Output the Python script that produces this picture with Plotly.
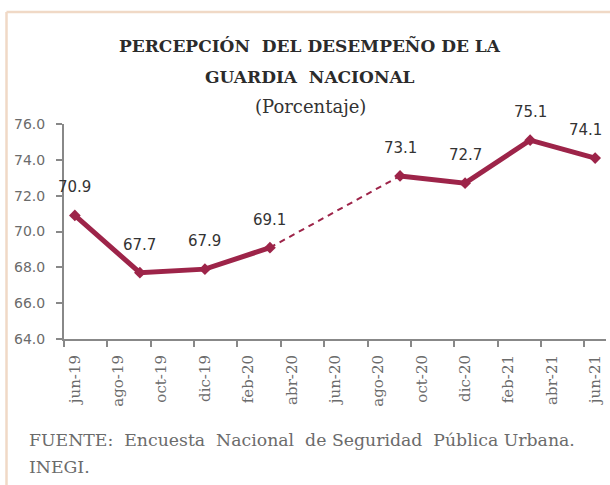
import plotly.graph_objects as go

# ---- data ----
month_labels = ["jun-19", "jul-19", "ago-19", "sep-19", "oct-19", "nov-19", "dic-19",
                "ene-20", "feb-20", "mar-20", "abr-20", "may-20", "jun-20", "jul-20",
                "ago-20", "sep-20", "oct-20", "nov-20", "dic-20", "ene-21", "feb-21",
                "mar-21", "abr-21", "may-21", "jun-21"]
tick_labels = ["jun-19", "ago-19", "oct-19", "dic-19", "feb-20", "abr-20", "jun-20",
               "ago-20", "oct-20", "dic-20", "feb-21", "abr-21", "jun-21"]
periods = ["jun-19", "sep-19", "dic-19", "mar-20", "sep-20", "dic-20", "mar-21", "jun-21"]
values = [70.9, 67.7, 67.9, 69.1, 73.1, 72.7, 75.1, 74.1]

x_idx = [month_labels.index(p) for p in periods]
tick_idx = [month_labels.index(t) for t in tick_labels]

W, H = 610, 485
ML, MR, MT, MB = 64, 4, 124, 146
PW, PH = W - ML - MR, H - MT - MB

def px2x(px):
    return (px - ML) / PW

def px2y(py):
    return (H - MB - py) / PH

GUINDA = "#9D2449"
SERIF = "DejaVu Serif"
SANS = "DejaVu Sans"

fig = go.Figure()

fig.add_trace(go.Scatter(x=x_idx[:4], y=values[:4], mode="lines+markers",
                         line=dict(color=GUINDA, width=5),
                         marker=dict(symbol="diamond", size=9, color=GUINDA),
                         hoverinfo="skip", showlegend=False))
fig.add_trace(go.Scatter(x=x_idx[3:5], y=values[3:5], mode="lines",
                         line=dict(color=GUINDA, width=2, dash="6px,5px"),
                         hoverinfo="skip", showlegend=False))
fig.add_trace(go.Scatter(x=x_idx[4:], y=values[4:], mode="lines+markers",
                         line=dict(color=GUINDA, width=5),
                         marker=dict(symbol="diamond", size=9, color=GUINDA),
                         hoverinfo="skip", showlegend=False))

annotations = []
for i, (xv, yv) in enumerate(zip(x_idx, values)):
    annotations.append(dict(x=xv, y=yv, text=f"{yv:.1f}", showarrow=False,
                            xref="x", yref="y", yshift=28,
                            xshift=-10 if i == len(values) - 1 else 0,
                            font=dict(family=SANS, size=15, color="#333333")))

annotations += [
    dict(text="<b>PERCEPCIÓN  DEL DESEMPEÑO DE LA</b>", x=px2x(310), y=px2y(45),
         xref="paper", yref="paper", showarrow=False, xanchor="center", yanchor="middle",
         font=dict(family=SERIF, size=17, color="#2b2b2b")),
    dict(text="<b>GUARDIA  NACIONAL</b>", x=px2x(310), y=px2y(77),
         xref="paper", yref="paper", showarrow=False, xanchor="center", yanchor="middle",
         font=dict(family=SERIF, size=17, color="#2b2b2b")),
    dict(text="(Porcentaje)", x=px2x(310), y=px2y(106),
         xref="paper", yref="paper", showarrow=False, xanchor="center", yanchor="middle",
         font=dict(family=SERIF, size=18, color="#333333")),
    dict(text="FUENTE:  Encuesta  Nacional  de Seguridad  Pública Urbana.", x=px2x(27), y=px2y(440),
         xref="paper", yref="paper", showarrow=False, xanchor="left", yanchor="middle",
         font=dict(family=SERIF, size=17.3, color="#6b6b6b")),
    dict(text="INEGI.", x=px2x(27), y=px2y(467),
         xref="paper", yref="paper", showarrow=False, xanchor="left", yanchor="middle",
         font=dict(family=SERIF, size=17.3, color="#6b6b6b")),
]

shapes = [
    dict(type="line", xref="paper", yref="paper", x0=px2x(6.5), x1=px2x(W + 2),
         y0=px2y(12), y1=px2y(12), line=dict(color="#F0D9C6", width=2.5)),
    dict(type="line", xref="paper", yref="paper", x0=px2x(6.5), x1=px2x(6.5),
         y0=px2y(12), y1=px2y(H + 2), line=dict(color="#F0D9C6", width=2.5)),
]

fig.update_layout(
    width=W, height=H,
    margin=dict(l=ML, r=MR, t=MT, b=MB),
    paper_bgcolor="white", plot_bgcolor="white",
    showlegend=False,
    annotations=annotations,
    shapes=shapes,
    xaxis=dict(range=[-0.5, len(month_labels) - 0.5],
               tickmode="array", tickvals=tick_idx, ticktext=tick_labels,
               tickangle=-90, ticks="", showgrid=False, zeroline=False,
               showline=True, linecolor="#888888", linewidth=2,
               ticklabelstandoff=8,
               tickfont=dict(family=SERIF, size=15, color="#6b6b6b"),
               minor=dict(tickmode="array",
                          tickvals=[t - 0.5 for t in tick_idx],
                          ticks="outside", ticklen=6, tickwidth=2, tickcolor="#888888",
                          showgrid=False)),
    yaxis=dict(range=[64, 76], tickmode="linear", tick0=64, dtick=2, tickformat=".1f",
               ticks="outside", ticklen=6, tickwidth=2, tickcolor="#888888",
               showline=True, linecolor="#888888", linewidth=2,
               showgrid=False, zeroline=False, ticklabelstandoff=8,
               tickfont=dict(family=SANS, size=14, color="#6b6b6b")),
)

fig.write_html("out.html", config={"displayModeBar": False},
               post_script="document.body.style.margin='0';document.body.style.padding='0';")
